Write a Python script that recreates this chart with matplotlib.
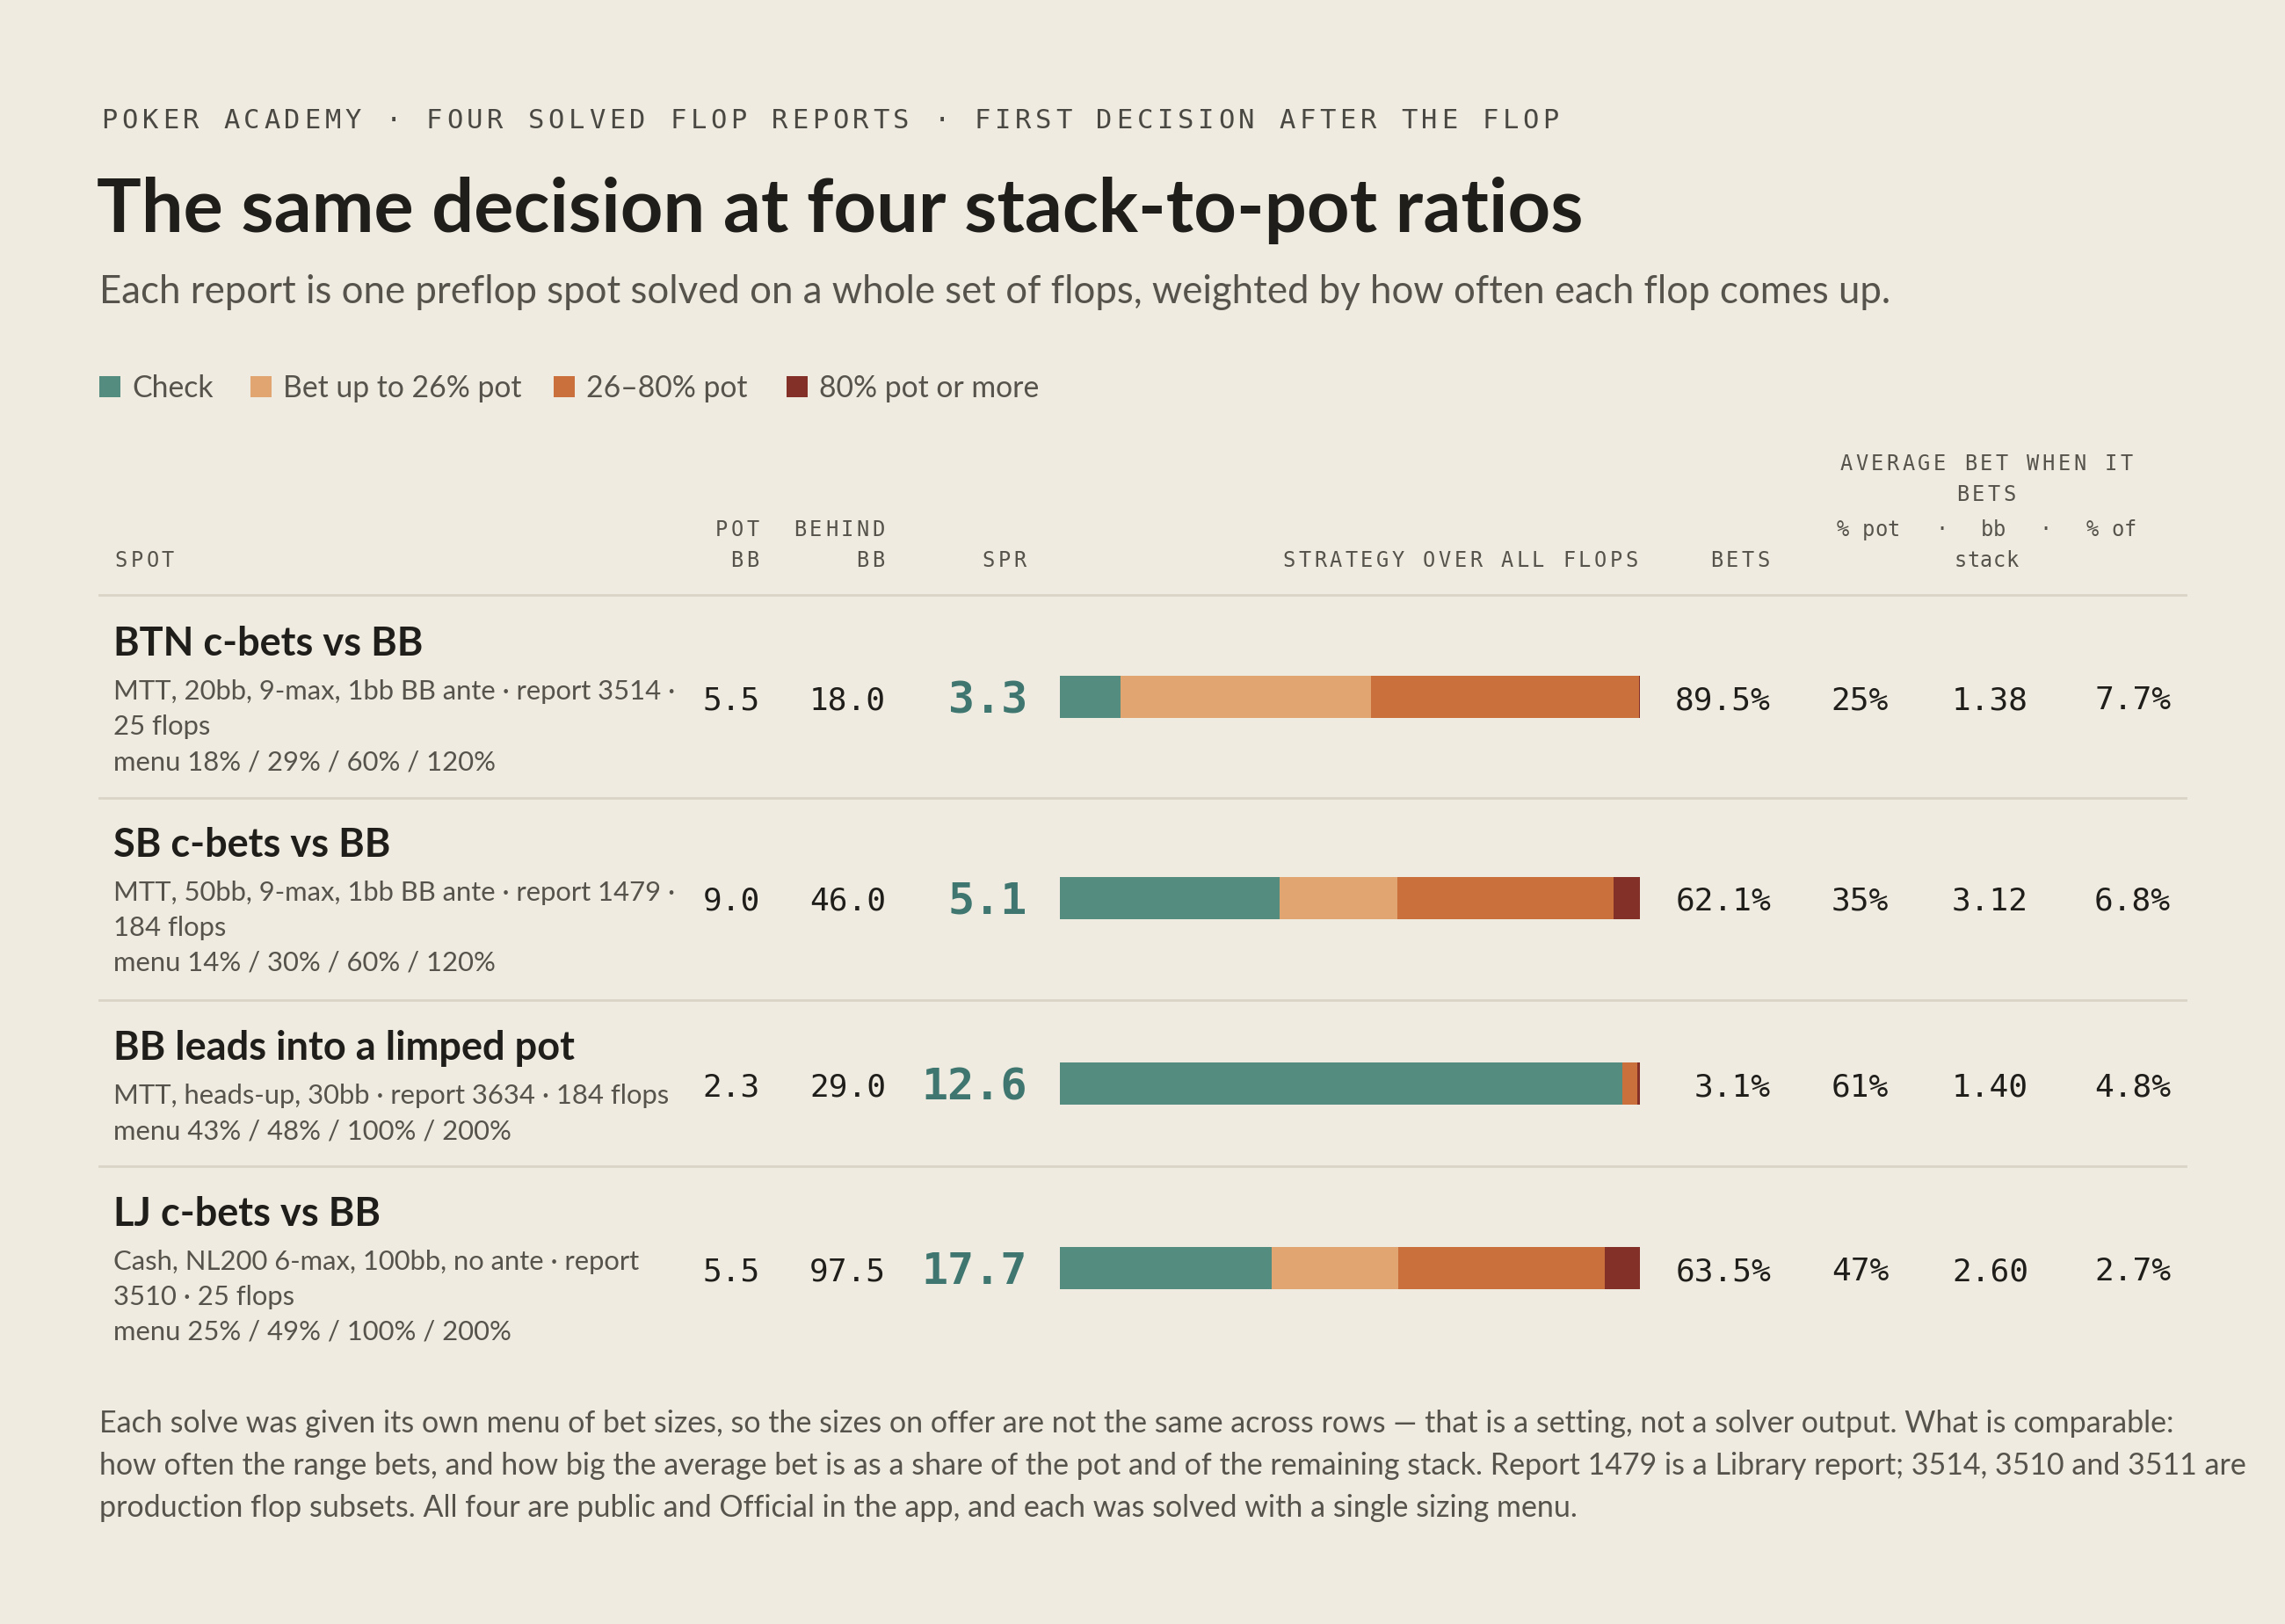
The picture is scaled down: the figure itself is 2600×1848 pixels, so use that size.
import matplotlib
import matplotlib.pyplot as plt
import numpy as np

matplotlib.use("Agg")

# ---- data ----
spots = ["BTN c-bets vs BB", "SB c-bets vs BB", "BB leads into a limped pot", "LJ c-bets vs BB"]
details = [
    ["MTT, 20bb, 9-max, 1bb BB ante · report 3514 ·", "25 flops", "menu 18% / 29% / 60% / 120%"],
    ["MTT, 50bb, 9-max, 1bb BB ante · report 1479 ·", "184 flops", "menu 14% / 30% / 60% / 120%"],
    ["MTT, heads-up, 30bb · report 3634 · 184 flops", "menu 43% / 48% / 100% / 200%"],
    ["Cash, NL200 6-max, 100bb, no ante · report", "3510 · 25 flops", "menu 25% / 49% / 100% / 200%"],
]
pot_bb = ["5.5", "9.0", "2.3", "5.5"]
behind_bb = ["18.0", "46.0", "29.0", "97.5"]
spr = ["3.3", "5.1", "12.6", "17.7"]
check = [10.5, 37.9, 96.9, 36.5]
bet_small = [43.2, 20.3, 0.0, 21.8]
bet_mid = [46.2, 37.3, 2.6, 35.7]
bet_big = [0.1, 4.5, 0.5, 6.0]
bets = ["89.5%", "62.1%", "3.1%", "63.5%"]
avg_pct_pot = ["25%", "35%", "61%", "47%"]
avg_bb = ["1.38", "3.12", "1.40", "2.60"]
avg_pct_stack = ["7.7%", "6.8%", "4.8%", "2.7%"]
legend_labels = ["Check", "Bet up to 26% pot", "26–80% pot", "80% pot or more"]

BG = "#EFEBE0"
COLORS = ["#548C80", "#E1A572", "#C9703C", "#823028"]
DARK = "#1F1E1B"
GREY = "#55534B"
TEAL = "#3F7670"
SANS = ["Lato", "DejaVu Sans"]
MONO = "DejaVu Sans Mono"

W, H = 2600, 1849
fig = plt.figure(figsize=(26, 18.49), dpi=100, facecolor=BG)
ax = fig.add_axes([0, 0, 1, 1])
ax.set_xlim(0, W)
ax.set_ylim(H, 0)
ax.axis("off")


def spaced(x, y, s, pitch, size, color=GREY, ha="left", weight="normal"):
    """Draw letter-spaced monospace text one glyph at a time."""
    width = pitch * len(s)
    if ha == "right":
        x = x - width
    elif ha == "center":
        x = x - width / 2
    for i, ch in enumerate(s):
        if ch != " ":
            ax.text(x + i * pitch + pitch / 2, y, ch, family=MONO, fontsize=size,
                    color=color, ha="center", va="baseline", weight=weight)


# header block
spaced(113, 146, "POKER ACADEMY · FOUR SOLVED FLOP REPORTS · FIRST DECISION AFTER THE FLOP",
       23.1, 22, color="#4A4842")
ax.text(110, 264, "The same decision at four stack-to-pot ratios", family=SANS,
        fontsize=61, weight="bold", color=DARK, va="baseline")
ax.text(113, 345, "Each report is one preflop spot solved on a whole set of flops, weighted by how often each flop comes up.",
        family=SANS, fontsize=31.5, color=GREY, va="baseline")

# legend
leg_x = [113, 285, 630, 895]
for lx, lab, col in zip(leg_x, legend_labels, COLORS):
    ax.add_patch(plt.Rectangle((lx, 429), 24, 24, color=col, lw=0))
    ax.text(lx + 37, 452, lab, family=SANS, fontsize=24.3, color=GREY, va="baseline")

# column headers
hp = 17.7
hs = 17
spaced(129, 645, "SPOT", hp, hs)
spaced(865, 610, "POT", hp, hs, ha="right")
spaced(865, 645, "BB", hp, hs, ha="right")
spaced(1008, 610, "BEHIND", hp, hs, ha="right")
spaced(1008, 645, "BB", hp, hs, ha="right")
spaced(1169, 645, "SPR", hp, hs, ha="right")
spaced(1865, 645, "STRATEGY OVER ALL FLOPS", hp, hs, ha="right")
spaced(2015, 645, "BETS", hp, hs, ha="right")
spaced(2260, 535, "AVERAGE BET WHEN IT", hp, hs, ha="center")
spaced(2260, 570, "BETS", hp, hs, ha="center")
spaced(2126, 610, "% pot", 14.5, hs, ha="center")
spaced(2210, 610, "·", 14.5, hs, ha="center")
spaced(2268, 610, "bb", 14.5, hs, ha="center")
spaced(2327, 610, "·", 14.5, hs, ha="center")
spaced(2402, 610, "% of", 14.5, hs, ha="center")
spaced(2260, 645, "stack", 14.5, hs, ha="center")

# row layout (pixel positions)
row_y = [794, 1023, 1234, 1444]
title_y = [746, 975, 1206, 1395]
sep_y = [678, 909, 1139, 1328]
for sy in sep_y:
    ax.plot([113, 2487], [sy, sy], color="#D9D4C6", lw=2)

for i in range(4):
    ax.text(129, title_y[i], spots[i], family=SANS, fontsize=32.5, weight="bold",
            color=DARK, va="baseline")
    for j, line in enumerate(details[i]):
        ax.text(129, title_y[i] + 50 + 40 * j, line, family=SANS, fontsize=22.3,
                color=GREY, va="baseline")
    yb = row_y[i] + 13
    ax.text(865, yb, pot_bb[i], family=MONO, fontsize=26, color=DARK, ha="right", va="baseline")
    ax.text(1008, yb, behind_bb[i], family=MONO, fontsize=26, color=DARK, ha="right", va="baseline")
    ax.text(1169, yb + 4, spr[i], family=MONO, fontsize=36, weight="bold", color=TEAL,
            ha="right", va="baseline")
    ax.text(2015, yb, bets[i], family=MONO, fontsize=26, color=DARK, ha="right", va="baseline")
    ax.text(2149, yb, avg_pct_pot[i], family=MONO, fontsize=26, color=DARK, ha="right", va="baseline")
    ax.text(2308, yb, avg_bb[i], family=MONO, fontsize=26, color=DARK, ha="right", va="baseline")
    ax.text(2470, yb, avg_pct_stack[i], family=MONO, fontsize=26, color=DARK, ha="right", va="baseline")

# stacked strategy bars
bax = fig.add_axes([1206 / W, 0, 660 / W, 1])
bax.set_xlim(0, 100)
bax.set_ylim(H, 0)
bax.axis("off")
left = np.zeros(4)
for vals, col in zip([check, bet_small, bet_mid, bet_big], COLORS):
    vals = np.array(vals)
    bax.barh(row_y, vals, left=left, height=48, color=col, lw=0)
    left += vals

# footnote
foot = [
    "Each solve was given its own menu of bet sizes, so the sizes on offer are not the same across rows — that is a setting, not a solver output. What is comparable:",
    "how often the range bets, and how big the average bet is as a share of the pot and of the remaining stack. Report 1479 is a Library report; 3514, 3510 and 3511 are",
    "production flop subsets. All four are public and Official in the app, and each was solved with a single sizing menu.",
]
for k, line in enumerate(foot):
    ax.text(113, 1630 + 48 * k, line, family=SANS, fontsize=24.5, color=GREY, va="baseline")

fig.savefig("out.png", dpi=100, facecolor=BG)
